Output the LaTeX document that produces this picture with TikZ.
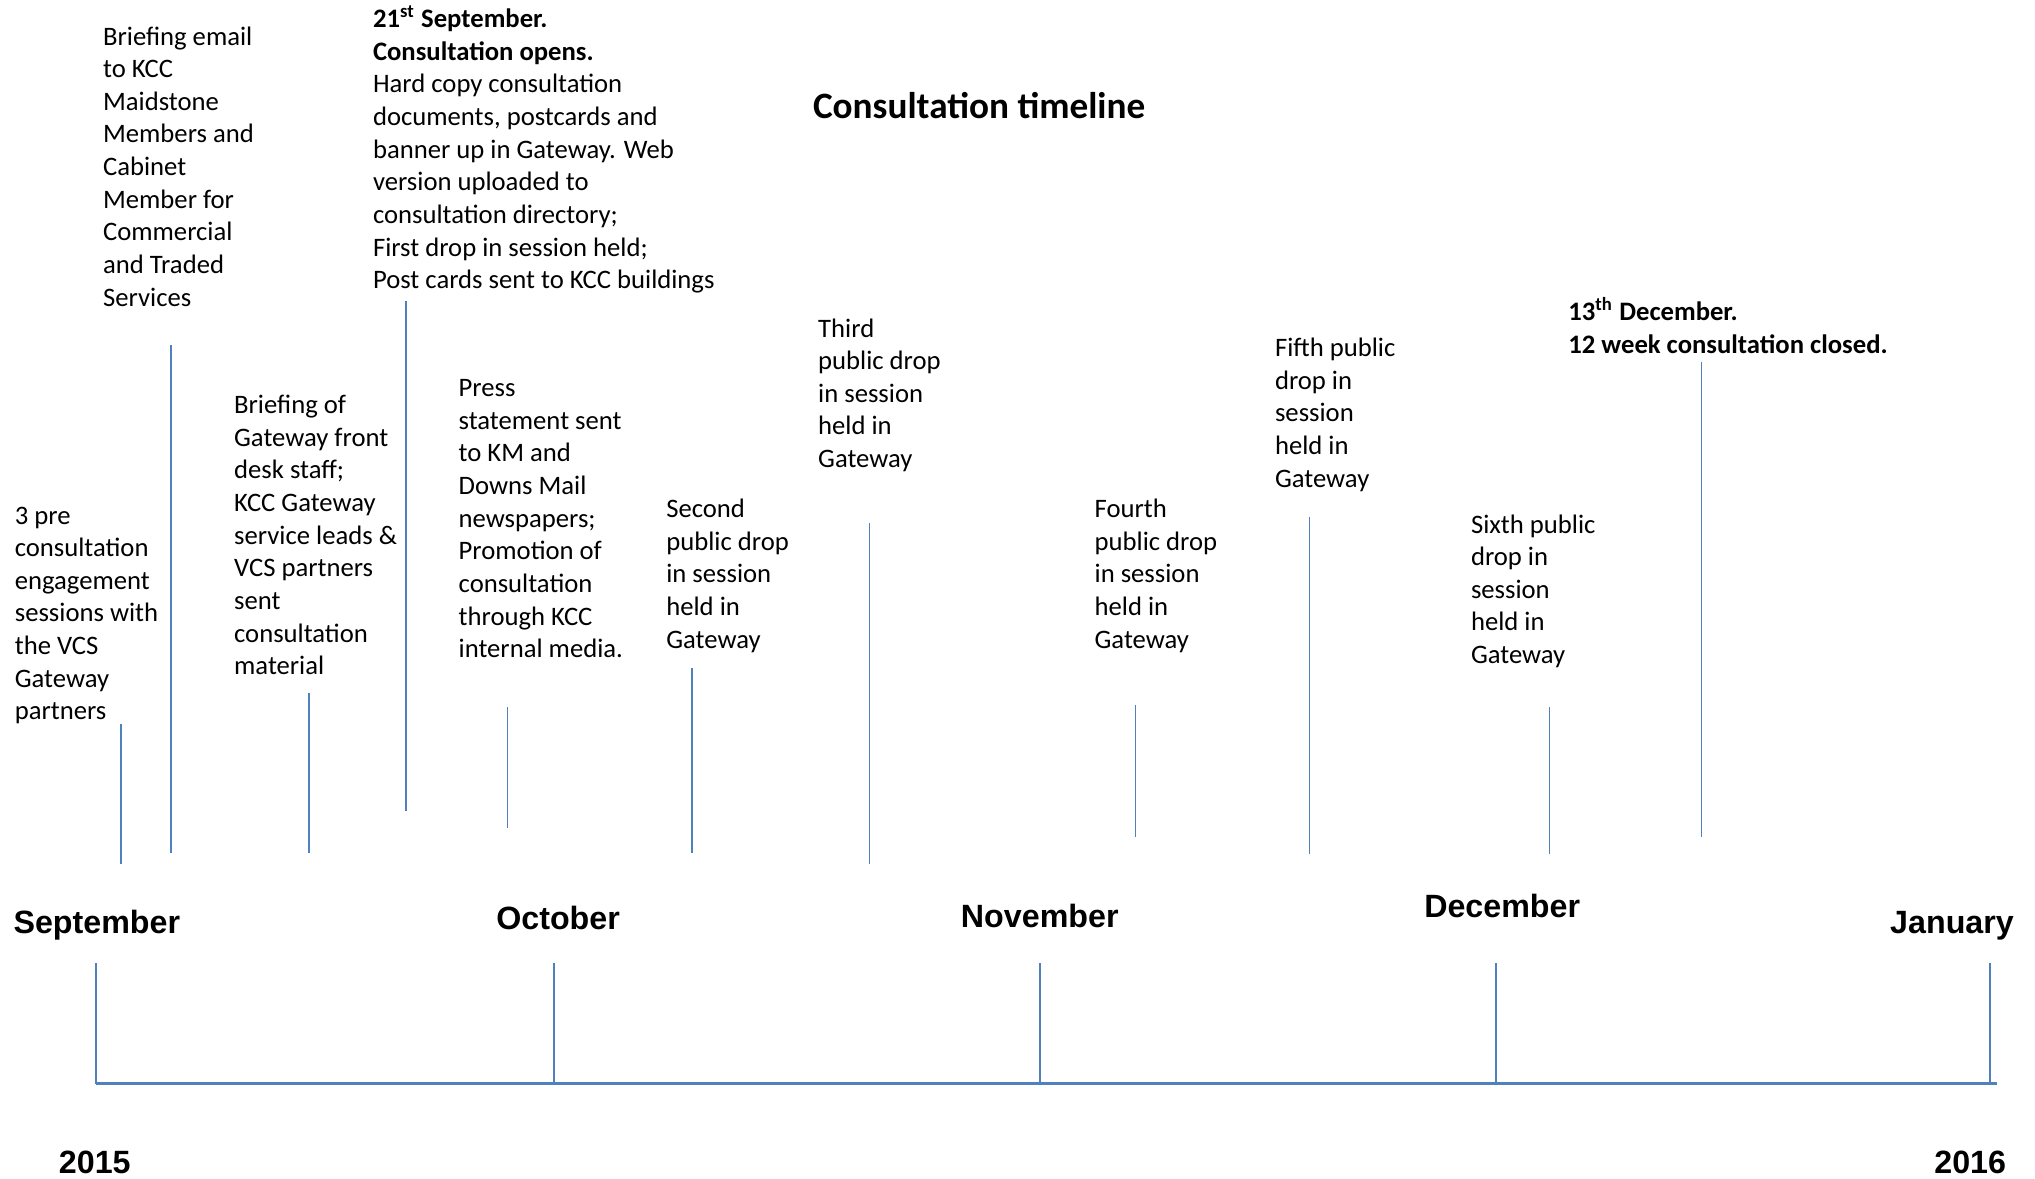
\documentclass[tikz,border=0pt]{standalone}
\usepackage{fontspec}
\setmainfont{Carlito}
\newfontfamily\monthfont{Liberation Sans}
\definecolor{lineblue}{HTML}{4F81BD}

\begin{document}
\begin{tikzpicture}[x=0.4672pt,y=-0.4672pt,
	event/.style={anchor=north west,inner sep=0,align=left,font=\fontsize{9.6}{11.75}\selectfont},
	month/.style={anchor=base west,inner sep=0,font=\monthfont\bfseries\fontsize{11.6}{14}\selectfont},
	tick/.style={lineblue,line width=0.6pt}]
	\useasboundingbox (0,0) rectangle (1568,908);
	
	\node [anchor=base west,inner sep=0,font=\bfseries\fontsize{13.4}{16}\selectfont] at (626,91) (title) {Consultation timeline};
	
	% events
	\node [event] at (11,390) (event 1) {3 pre\\consultation\\engagement\\sessions with\\the VCS\\Gateway\\partners};
	\node [event] at (79,20) (event 2) {Briefing email\\to KCC\\Maidstone\\Members and\\Cabinet\\Member for\\Commercial\\and Traded\\Services};
	\node [event] at (180,304) (event 3) {Briefing of\\Gateway front\\desk staff;\\KCC Gateway\\service leads \&\\VCS partners\\sent\\consultation\\material};
	\node [event] at (287,4) (event 4) {\textbf{21\textsuperscript{st} September.}\\\textbf{Consultation opens.}\\Hard copy consultation\\documents, postcards and\\banner up in Gateway. Web\\version uploaded to\\consultation directory;\\First drop in session held;\\Post cards sent to KCC buildings};
	\node [event] at (353,292) (event 5) {Press\\statement sent\\to KM and\\Downs Mail\\newspapers;\\Promotion of\\consultation\\through KCC\\internal media.};
	\node [event] at (513,384) (event 6) {Second\\public drop\\in session\\held in\\Gateway};
	\node [event] at (630,245) (event 7) {Third\\public drop\\in session\\held in\\Gateway};
	\node [event] at (843,384) (event 8) {Fourth\\public drop\\in session\\held in\\Gateway};
	\node [event] at (982,260) (event 9) {Fifth public\\drop in\\session\\held in\\Gateway};
	\node [event] at (1133,396) (event 10) {Sixth public\\drop in\\session\\held in\\Gateway};
	\node [event,font=\bfseries\fontsize{9.6}{11.75}\selectfont] at (1208,229) (event 11) {13\textsuperscript{th} December.\\12 week consultation closed.};
	
	\foreach [count=\n] \x/\a/\b in {93/558/666,132/266/657,238/534/657,313/232/625,391/545/638,533/515/657,670/403/666,875/543/645,1009/398/658,1194/545/658,1311/279/645}{
		\coordinate (tick top \n) at (\x,\a);
		\coordinate (tick foot \n) at (\x,\b);
		\draw [tick] (tick top \n) -- (tick foot \n);
	}
	
	% months
	\node [month] at (10,719) (month 1) {September};
	\node [month] at (382,716) (month 2) {October};
	\node [month] at (740,715) (month 3) {November};
	\node [month] at (1097,707) (month 4) {December};
	\node [month] at (1456,719) (month 5) {January};
	
	\foreach [count=\n] \x in {74,427,801,1153,1533}{
		\coordinate (mark \n) at (\x,742);
		\coordinate (base \n) at (\x,835);
		\draw [lineblue,line width=0.7pt] (mark \n) -- (base \n);
	}
	\coordinate (axis end) at (1539,835);
	\draw [lineblue,line width=1.1pt] (base 1) -- (axis end);
	
	\node [month] at (45,904) (year 1) {2015};
	\node [month] at (1490,904) (year 2) {2016};
	
\end{tikzpicture}
\end{document}
